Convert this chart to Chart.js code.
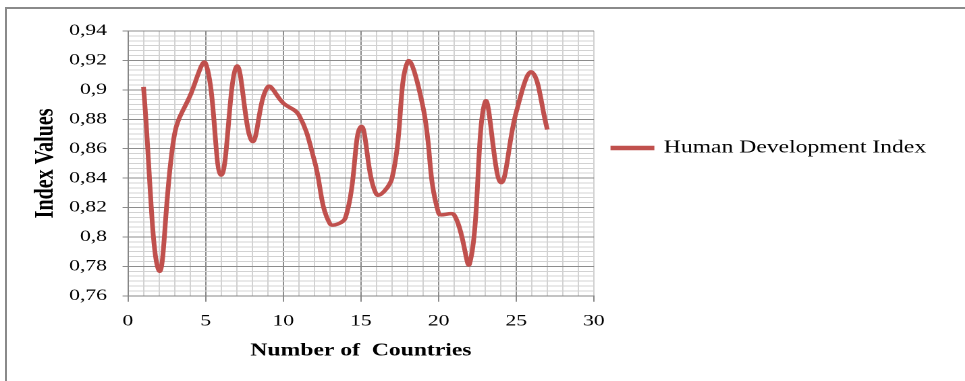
<!DOCTYPE html>
<html>
<head>
<meta charset="utf-8">
<title>Human Development Index</title>
<script src="https://cdn.jsdelivr.net/npm/chart.js@4.4.0/dist/chart.umd.min.js"></script>
<style>
    body { margin: 0; background: #fff; overflow: hidden; }
    /* the picture is an Excel chart stretched sideways, so draw narrow and scale */
    #wrap { position: absolute; left: 0; top: 0; width: 715px; height: 381px; transform: scaleX(1.3497); transform-origin: 0 0; }
    #frame { position: absolute; left: 5px; top: 7px; width: 1000px; height: 400px; border-top: 2px solid #8a8a8a; border-left: 2px solid #8a8a8a; pointer-events: none; }
</style>
</head>
<body>
<div id="wrap"><canvas id="myChart" width="715" height="381"></canvas></div>
<div id="frame"></div>
<script>
// chart data
const countries = [1, 2, 3, 4, 5, 6, 7, 8, 9, 10, 11, 12, 13, 14, 15, 16, 17, 18, 19, 20, 21, 22, 23, 24, 25, 26, 27];
const hdiValues = [0.902, 0.777, 0.870, 0.896, 0.918, 0.842, 0.916, 0.865, 0.902, 0.891, 0.883, 0.852, 0.809, 0.813,
    0.875, 0.829, 0.840, 0.919, 0.888, 0.816, 0.815, 0.782, 0.892, 0.837, 0.885, 0.912, 0.873];

// tick labels
const xLabels = [0, 5, 10, 15, 20, 25, 30];
const yLabels = [0.76, 0.78, 0.80, 0.82, 0.84, 0.86, 0.88, 0.90, 0.92, 0.94];
const xMinorParts = 5;
const yMinorParts = 6;

const lineColor = '#C0504D';
const majorGrid = '#8c8c8c';
const minorGrid = '#d2d2d2';
const serif = "'Liberation Serif', 'Times New Roman', serif";

// majors plus the minor grid steps between them
function gridTicks(majors, parts) {
    const ticks = [];
    for (let i = 0; i < majors.length - 1; i++) {
        const step = (majors[i + 1] - majors[i]) / parts;
        for (let j = 0; j < parts; j++) {
            ticks.push({ value: majors[i] + j * step, isMajor: j === 0 });
        }
    }
    ticks.push({ value: majors[majors.length - 1], isMajor: true });
    return ticks;
}

const points = countries.map((c, i) => ({ x: c, y: hdiValues[i] }));

const ctx = document.getElementById('myChart');

new Chart(ctx, {
    type: 'line',
    data: {
        datasets: [{
            label: 'Human Development Index',
            data: points,
            borderColor: lineColor,
            backgroundColor: lineColor,
            borderWidth: 3.5,
            pointRadius: 0,
            tension: 0.4,
        }]
    },
    options: {
        responsive: false,
        devicePixelRatio: 2,
        animation: false,
        layout: {
            padding: { top: 31, left: 0, right: 18.8, bottom: 19.5 }
        },
        plugins: {
            legend: {
                position: 'right',
                align: 'start',
                fullSize: false,
                maxWidth: 320,
                title: {
                    display: true,
                    text: ' ',
                    font: { size: 1 },
                    padding: { top: 93, bottom: 0 }
                },
                labels: {
                    boxWidth: 29,
                    boxHeight: 1,
                    padding: 14,
                    color: '#000',
                    font: { family: serif, size: 17.5 }
                }
            },
            tooltip: { enabled: false }
        },
        scales: {
            x: {
                type: 'linear',
                min: 0,
                max: 30,
                afterBuildTicks: axis => { axis.ticks = gridTicks(xLabels, xMinorParts); },
                ticks: {
                    autoSkip: false,
                    maxRotation: 0,
                    padding: 10,
                    color: '#000',
                    font: { family: serif, size: 16 },
                    callback: (value, index, ticks) => ticks[index].isMajor ? String(value) : ''
                },
                grid: {
                    color: c => (c.tick && c.tick.isMajor && c.tick.value !== 30) ? majorGrid : minorGrid,
                    tickColor: c => (c.tick && c.tick.isMajor) ? majorGrid : 'rgba(0,0,0,0)',
                    tickLength: 6,
                    lineWidth: 1
                },
                border: { color: '#868686', width: 1 },
                title: {
                    display: true,
                    text: 'Number of  Countries',
                    color: '#000',
                    font: { family: serif, size: 17.5, weight: 'bold' },
                    // chart.js also adds the tick padding below the labels
                    padding: { top: -0.5, bottom: 0 }
                }
            },
            y: {
                min: 0.76,
                max: 0.94,
                afterBuildTicks: axis => { axis.ticks = gridTicks(yLabels, yMinorParts); },
                ticks: {
                    autoSkip: false,
                    padding: 11.5,
                    color: '#000',
                    font: { family: serif, size: 16 },
                    callback: (value, index, ticks) => ticks[index].isMajor
                        ? String(Math.round(value * 100) / 100).replace('.', ',') : ''
                },
                grid: {
                    color: c => (c.tick && c.tick.isMajor) ? majorGrid : minorGrid,
                    tickColor: c => (c.tick && c.tick.isMajor) ? majorGrid : 'rgba(0,0,0,0)',
                    tickLength: 4,
                    lineWidth: 1
                },
                border: { color: '#868686', width: 1 },
                title: {
                    display: true,
                    text: 'Index Values',
                    color: '#000',
                    font: { family: serif, size: 20, weight: 'bold' },
                    padding: { top: 22, bottom: -6.2 }
                }
            }
        }
    }
});
</script>
</body>
</html>
